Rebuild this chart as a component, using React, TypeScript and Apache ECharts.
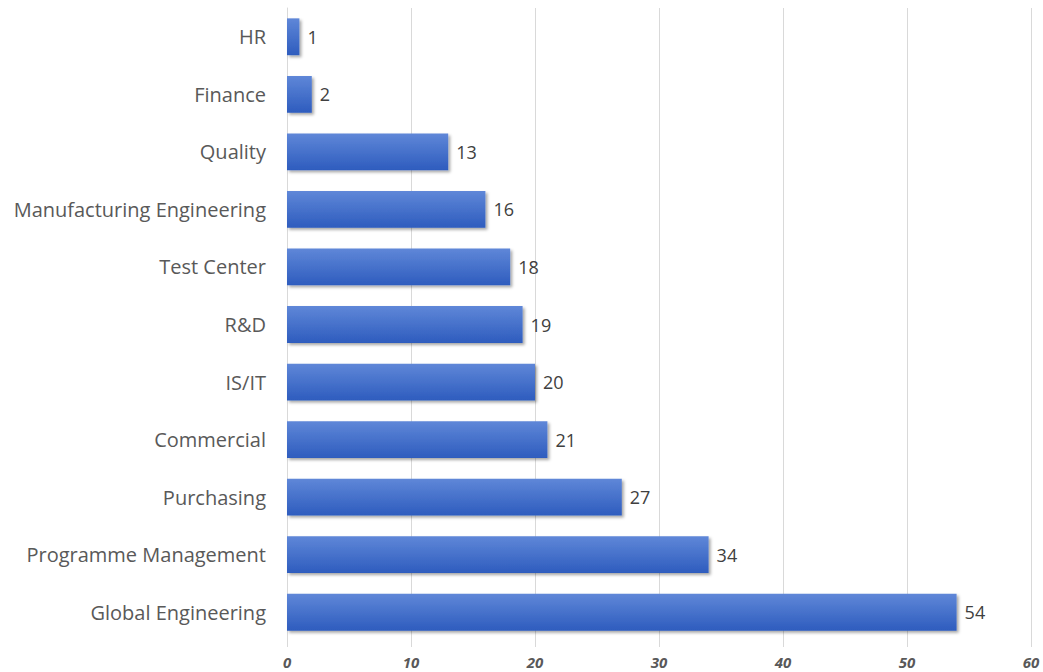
import React, { useEffect, useRef } from "react";
import * as echarts from "echarts";

const categories = [
  "Global Engineering",
  "Programme Management",
  "Purchasing",
  "Commercial",
  "IS/IT",
  "R&D",
  "Test Center",
  "Manufacturing Engineering",
  "Quality",
  "Finance",
  "HR",
];
const values = [54, 34, 27, 21, 20, 19, 18, 16, 13, 2, 1];
const xTicks = { min: 0, max: 60, interval: 10 };

const FONT = "'Open Sans', 'Noto Sans', sans-serif";

export default function App() {
  const ref = useRef<HTMLDivElement>(null);
  useEffect(() => {
    if (!ref.current) return;
    const chart = echarts.init(ref.current, undefined, { renderer: "svg" });
    chart.setOption({
      animation: false,
      grid: { left: 287, right: 12, top: 8, bottom: 31, containLabel: false },
      xAxis: {
        type: "value",
        min: xTicks.min,
        max: xTicks.max,
        interval: xTicks.interval,
        axisLine: { show: false },
        axisTick: { show: true, length: 6, lineStyle: { color: "#d9d9d9" } },
        splitLine: { show: true, lineStyle: { color: "#d9d9d9", width: 1 } },
        axisLabel: {
          color: "#595959",
          fontFamily: FONT,
          fontSize: 15,
          fontWeight: "bold",
          fontStyle: "italic",
          margin: 13,
        },
      },
      yAxis: {
        type: "category",
        data: categories,
        axisLine: { show: true, lineStyle: { color: "#d9d9d9" } },
        axisTick: { show: false },
        axisLabel: {
          color: "#595959",
          fontFamily: FONT,
          fontSize: 20,
          margin: 21,
        },
      },
      series: [
        {
          type: "bar",
          data: values,
          barCategoryGap: "36%",
          itemStyle: {
            color: new echarts.graphic.LinearGradient(0, 0, 0, 1, [
              { offset: 0, color: "#5f87d8" },
              { offset: 1, color: "#2e5cbe" },
            ]),
            shadowColor: "rgba(0,0,0,0.35)",
            shadowBlur: 3,
            shadowOffsetX: 2,
            shadowOffsetY: 2,
          },
          label: {
            show: true,
            position: "right",
            distance: 8,
            color: "#404040",
            fontFamily: FONT,
            fontSize: 18,
          },
        },
      ],
    });
    return () => chart.dispose();
  }, []);
  return <div ref={ref} style={{ width: 1043, height: 672, position: "absolute", left: 0, top: 0 }} />;
}
